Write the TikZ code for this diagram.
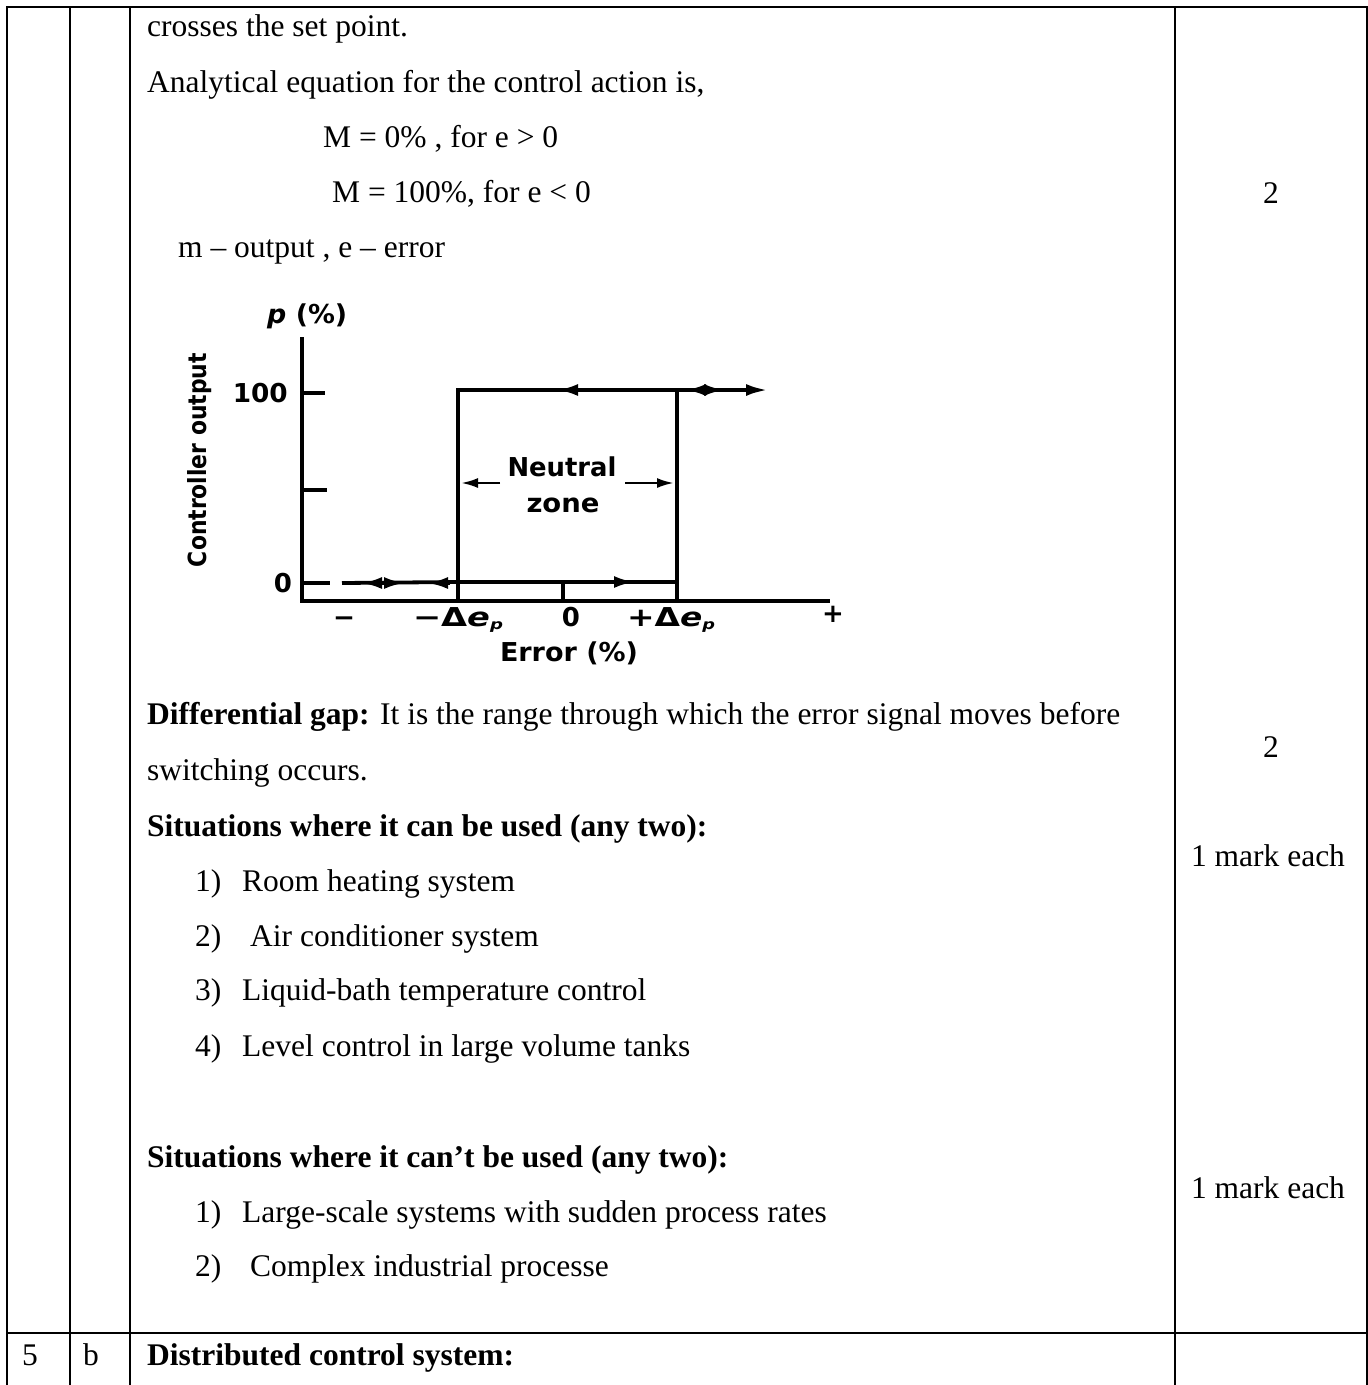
\documentclass[tikz,border=0pt]{standalone}
\usepackage{fontspec}
\setmainfont{Liberation Serif}
\newfontfamily\gfont{DejaVu Sans}
\usetikzlibrary{arrows.meta}
\newcommand{\gw}[2]{\resizebox{#1}{\height}{#2}}
\begin{document}
\begin{tikzpicture}[x=1pt,y=-1pt,
  txt/.style={font=\fontsize{31.5}{36}\selectfont, inner sep=0pt, anchor=base west},
  txtb/.style={font=\fontsize{31.5}{36}\selectfont\bfseries, inner sep=0pt, anchor=base west},
  rcol/.style={font=\fontsize{31.5}{36}\selectfont, inner sep=0pt, anchor=base},
  grid/.style={line width=2pt, line cap=rect},
  plotline/.style={line width=3.8pt},
  glab/.style={font=\gfont\bfseries\fontsize{26}{30}\selectfont, inner sep=0pt},
  tip/.style={line width=3pt,-{Latex[length=20pt,width=12pt]}},
  ntip/.style={line width=2.6pt,-{Latex[length=17pt,width=10pt]}}
]
\fill[white] (0,0) rectangle (1368,1385);
\useasboundingbox (0,0) rectangle (1368,1385);

% ---------- table rules ----------
\draw[grid] (7,7) -- (1367,7);
\foreach \x in {7,70,130,1175,1367} \draw[grid] (\x,7) -- (\x,1385);
\draw[grid] (7,1333) -- (1367,1333);

% ---------- text, middle column ----------
\node[txt] (t1) at (147,36) {crosses the set point.};
\node[txt] (t2) at (147,92) {Analytical equation for the control action is,};
\node[txt] (t3) at (323,147) {M = 0\% , for e > 0};
\node[txt] (t4) at (332,202) {M = 100\%, for e < 0};
\node[txt] (t5) at (178,257) {m – output , e – error};

\node[txt] (t6) at (147,724) {\textbf{Differential gap:} It is the range through which the error signal moves before};
\node[txt] (t7) at (147,780) {switching occurs.};
\node[txtb] (t8) at (147,836) {Situations where it can be used (any two):};
\node[txt] (n1) at (195,891) {1)};
\node[txt] (i1) at (242,891) {Room heating system};
\node[txt] (n2) at (195,946) {2)};
\node[txt] (i2) at (250,946) {Air conditioner system};
\node[txt] (n3) at (195,1000) {3)};
\node[txt] (i3) at (242,1000) {Liquid-bath temperature control};
\node[txt] (n4) at (195,1056) {4)};
\node[txt] (i4) at (242,1056) {Level control in large volume tanks};

\node[txtb] (t9) at (147,1167) {Situations where it can’t be used (any two):};
\node[txt] (n5) at (195,1222) {1)};
\node[txt] (i5) at (242,1222) {Large-scale systems with sudden process rates};
\node[txt] (n6) at (195,1276) {2)};
\node[txt] (i6) at (250,1276) {Complex industrial processe};

\node[txt] (q5) at (22,1365) {5};
\node[txt] (qb) at (83,1365) {b};
\node[txtb] (t10) at (147,1365) {Distributed control system:};

% ---------- marks column ----------
\node[rcol] (r1) at (1271,203) {2};
\node[rcol] (r2) at (1271,757) {2};
\node[rcol] (r3) at (1268,866) {1 mark each};
\node[rcol] (r4) at (1268,1198) {1 mark each};

% ---------- graph ----------
\coordinate (O) at (302,601);
\coordinate (Ytop) at (302,337);
\coordinate (Xend) at (830,601);
\coordinate (A) at (458,390);
\coordinate (B) at (677,390);
\coordinate (C) at (458,582);
\coordinate (D) at (677,582);
\coordinate (A0) at (458,601);
\coordinate (B0) at (677,601);
\coordinate (Z0) at (563,601);
\coordinate (Z1) at (563,582);
\coordinate (L0) at (342,583);
\coordinate (R1) at (768,390);

\draw[line width=4.2pt, line join=miter] (Ytop) -- (O) -- (Xend);
\draw[plotline] (302,393) -- (325,393);
\draw[plotline] (302,490) -- (327,490);
\draw[plotline] (302,583) -- (330,583);

\draw[plotline, line join=miter] (A0) -- (A) -- (B) -- (B0);
\draw[plotline] (C) -- (D);
\draw[plotline] (L0) -- (C);
\draw[plotline] (Z1) -- (Z0);
\draw[plotline,-{Latex[length=22pt,width=12pt]}] (B) -- (R1);

% arrowheads along the lines
\draw[tip] (580,390) -- (558,390);
\draw[tip] (706,390) -- (686,390);
\draw[tip] (704,390) -- (724,390);
\draw[tip] (384,583) -- (362,583);
\draw[tip] (382,583) -- (404,583);
\draw[tip] (450,583) -- (428,583);
\draw[tip] (612,582) -- (634,582);
\draw[ntip] (500,483) -- (461,483);
\draw[ntip] (625,483) -- (674,483);

% graph labels
\node[glab, anchor=base east] (l100) at (288,402) {\gw{55pt}{100}};
\node[glab, anchor=base] (l0) at (283,592) {0};
\node[glab, anchor=base west] (lp) at (267,323) {\gw{80pt}{\itshape p\upshape\ (\%)}};
\node[glab, rotate=90, font=\gfont\bfseries\fontsize{25}{29}\selectfont] (lco) at (200,460) {\gw{214pt}{Controller output}};
\node[glab] (xm) at (344,622) {\gw{22pt}{−}};
\node[glab, anchor=base] (xmd) at (458,626) {\gw{90pt}{−Δ\itshape e\raisebox{-3pt}{\fontsize{14}{14}\selectfont p}}};
\node[glab, anchor=base] (x0) at (571,626) {0};
\node[glab, anchor=base] (xpd) at (671,626) {\gw{88pt}{+Δ\itshape e\raisebox{-3pt}{\fontsize{14}{14}\selectfont p}}};
\node[glab] (xp) at (833,614) {+};
\node[glab, anchor=base] (err) at (569,661) {\gw{138pt}{Error (\%)}};
\node[glab, anchor=base] (neu) at (562,476) {\gw{109pt}{Neutral}};
\node[glab, anchor=base] (zon) at (563,512) {\gw{73pt}{zone}};
\end{tikzpicture}
\end{document}
